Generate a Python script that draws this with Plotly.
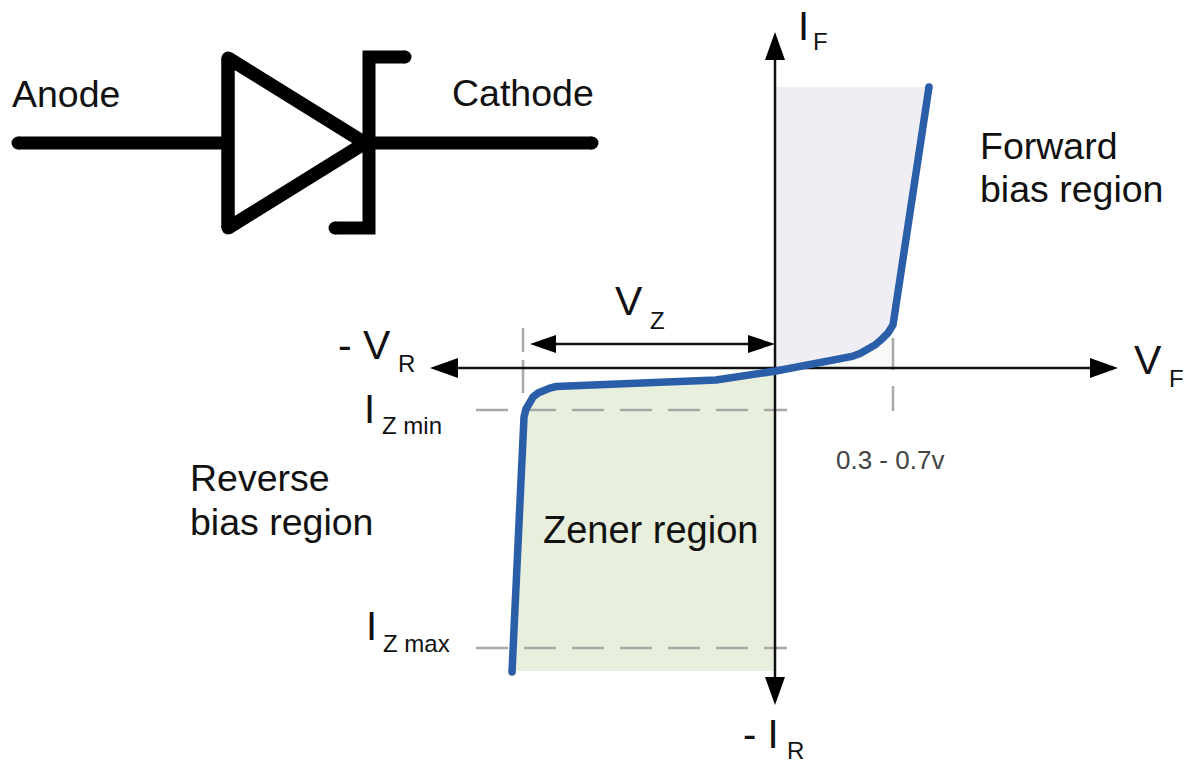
import plotly.graph_objects as go

# Curve, in picture units
curve_x = [512, 523, 524, 526, 529, 533, 538, 544, 550, 556, 640, 716, 776, 806, 837, 845, 852, 860, 868, 875, 882, 888, 893, 929]
curve_y = [672, 430, 417, 409, 402, 397, 393, 390, 388, 386.5, 383, 380, 371, 366, 360, 358.5, 356.5, 353.5, 349.5, 345, 339, 333, 325, 87]

reverse_fill_x = [776, 716, 640, 556, 550, 544, 538, 533, 529, 526, 524, 523, 512, 776]
reverse_fill_y = [371, 380, 383, 386.5, 388, 390, 393, 397, 402, 409, 417, 430, 671, 671]
forward_fill_x = [776, 776, 806, 837, 845, 852, 860, 868, 875, 882, 888, 893, 929]
forward_fill_y = [87, 371, 366, 360, 358.5, 356.5, 353.5, 349.5, 345, 339, 333, 325, 87]
knee_fill_x = [806, 837, 845, 852, 860, 868, 875, 882, 888, 893, 893]
knee_fill_y = [368, 360, 358.5, 356.5, 353.5, 349.5, 345, 339, 333, 325, 368]

# Diode symbol
wire_x = [18, 228, None, 365, 592]
wire_y = [143, 143, None, 143, 143]
triangle_x = [228, 365, 228, 228]
triangle_y = [58, 143, 228, 58]
bar_x = [405, 369, 369, 335]
bar_y = [57, 57, 228, 228]

# Axes and guides
axis_x = [458, 1090, None, 775, 775, None, 556, 748]
axis_y = [368, 368, None, 60, 677, None, 344, 344]
head_x = [430, 458, 458, 430, None, 1118, 1090, 1090, 1118, None, 775, 765, 785, 775, None,
          775, 765, 785, 775, None, 530, 556, 556, 530, None, 775, 748, 748, 775]
head_y = [368, 358, 378, 368, None, 368, 358, 378, 368, None, 32, 60, 60, 32, None,
          705, 677, 677, 705, None, 344, 335, 353, 344, None, 344, 335, 353, 344]
dash_x = [476, 787, None, 476, 787]
dash_y = [410, 410, None, 648, 648]
tick_x = [523, 523, None, 523, 523, None, 893, 893, None, 893, 893]
tick_y = [328, 352, None, 360, 393, None, 338, 370, None, 386, 411]

# Text: label, left x, baseline y, size, colour
labels = ["Anode", "Cathode", "Forward", "bias region", "Reverse", "bias region", "Zener region",
          "0.3 - 0.7v", "V", "Z", "- V", "R", "I", "Z min", "I", "Z max", "- I", "R", "I", "F", "V", "F"]
label_x = [10, 450, 978, 978, 188, 188, 541, 834, 613, 648, 336, 396, 362, 380, 364, 381, 741, 785, 796, 811, 1132, 1167]
label_y = [106, 105, 158, 201, 490, 534, 543, 469, 315, 328.5, 359, 371.5, 422, 433.5, 639, 651.5, 747, 758, 39, 49.5, 374, 386.5]
label_size = [37.5, 37.5, 37.5, 37.5, 37.5, 37.5, 38, 26, 41, 24, 41, 24, 40, 24, 40, 24, 40, 24, 40, 24, 41, 24]
label_color = ["#111111"] * 7 + ["#444444"] + ["#111111"] * 14

fig = go.Figure()


def line(x, y, color, width, dash=None):
    fig.add_trace(go.Scatter(x=x, y=y, mode="lines", hoverinfo="skip",
                             line=dict(color=color, width=width, dash=dash, shape="linear")))


def fill(x, y, color):
    fig.add_trace(go.Scatter(x=x, y=y, mode="lines", fill="toself", fillcolor=color,
                             line=dict(width=0), hoverinfo="skip"))


fill(reverse_fill_x, reverse_fill_y, "#E8EFDC")
fill(forward_fill_x, forward_fill_y, "#F0EEF5")
fill(knee_fill_x, knee_fill_y, "#F9F9FA")

line(dash_x, dash_y, "#A8A8A8", 2.5, dash="32px,16px")
line(tick_x, tick_y, "#A8A8A8", 2.5)
line(axis_x, axis_y, "#111111", 2.5)
fill(head_x, head_y, "#000000")
line(curve_x, curve_y, "#2B5EA8", 7.5)

line(wire_x, wire_y, "#000000", 13)
line(triangle_x, triangle_y, "#000000", 13.5)
line(bar_x, bar_y, "#000000", 13)
# round line ends of the symbol
fig.add_trace(go.Scatter(x=[18, 592, 405, 335, 228, 228], y=[143, 143, 57, 228, 58, 228],
                         mode="markers", hoverinfo="skip",
                         marker=dict(color="#000000", size=13, line=dict(width=0))))
fig.add_trace(go.Scatter(x=[512, 929], y=[672, 87], mode="markers", hoverinfo="skip",
                         marker=dict(color="#2B5EA8", size=7.5, line=dict(width=0))))

for text, x, y, size, color in zip(labels, label_x, label_y, label_size, label_color):
    fig.add_annotation(x=x, y=y - 0.33 * size, text=text, showarrow=False, xanchor="left", yanchor="middle",
                       font=dict(family="Liberation Sans", size=size, color=color))

fig.update_layout(width=1197, height=763, margin=dict(l=0, r=0, t=0, b=0), showlegend=False,
                  paper_bgcolor="white", plot_bgcolor="white",
                  xaxis=dict(range=[0, 1197], visible=False, fixedrange=True),
                  yaxis=dict(range=[763, 0], visible=False, fixedrange=True))

fig.write_html("out.html", config={"displayModeBar": False},
               post_script="document.body.style.margin='0';")
